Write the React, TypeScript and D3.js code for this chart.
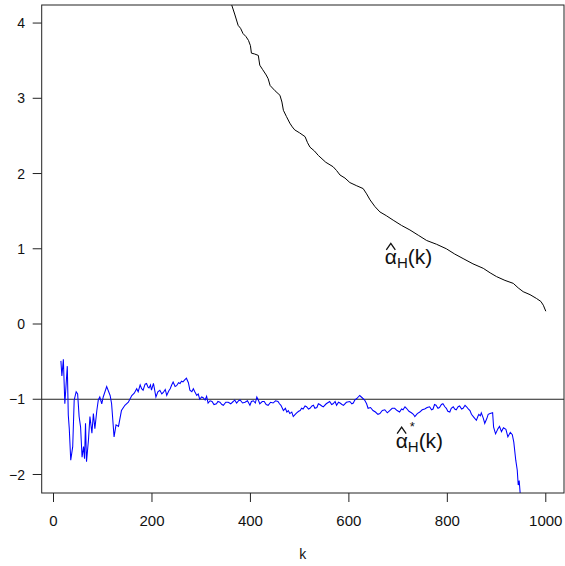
import React from "react";
import * as d3 from "d3";

const xTicks = [0, 200, 400, 600, 800, 1000];
const yTicks = [-2, -1, 0, 1, 2, 3, 4];

const hillK = [355, 362, 368, 375, 380, 385, 391, 396, 400, 402, 408, 416, 419, 425, 432, 436, 440, 450, 460, 464, 467, 473, 480, 485, 490, 500, 511, 516, 521, 530, 538, 553, 568, 575, 582, 592, 602, 615, 629, 636, 643, 653, 663, 676, 690, 707, 724, 741, 758, 778, 798, 815, 832, 852, 873, 887, 900, 917, 934, 944, 954, 968, 981, 990, 995, 1000];
const hillY = [4.32, 4.24, 4.12, 3.97, 3.93, 3.86, 3.82, 3.77, 3.7, 3.6, 3.59, 3.57, 3.44, 3.38, 3.31, 3.26, 3.17, 3.1, 3.04, 2.95, 2.84, 2.76, 2.67, 2.62, 2.58, 2.54, 2.49, 2.41, 2.35, 2.3, 2.24, 2.15, 2.09, 2.04, 1.98, 1.94, 1.88, 1.84, 1.8, 1.73, 1.65, 1.56, 1.49, 1.44, 1.38, 1.31, 1.25, 1.18, 1.11, 1.06, 1.0, 0.93, 0.87, 0.8, 0.74, 0.68, 0.63, 0.58, 0.54, 0.48, 0.43, 0.39, 0.34, 0.3, 0.25, 0.17];

const starK = [15, 17, 20, 23, 28, 30, 32, 35, 39, 42, 46, 49, 52, 55, 58, 61, 63, 65, 67, 71, 74, 78, 81, 84, 88, 91, 94, 98, 101, 108, 115, 118, 123, 127, 132, 138, 145, 152, 159, 164, 169, 172, 176, 179, 182, 186, 189, 192, 194, 197, 199, 203, 205, 208, 212, 216, 220, 223, 227, 230, 234, 237, 240, 243, 247, 250, 254, 257, 260, 263, 267, 270, 274, 277, 281, 284, 287, 291, 294, 297, 301, 304, 308, 311, 314, 318, 322, 326, 331, 334, 338, 342, 345, 350, 355, 360, 365, 368, 372, 376, 379, 384, 389, 394, 399, 402, 406, 410, 413, 416, 419, 424, 428, 432, 436, 441, 446, 451, 456, 459, 462, 467, 471, 474, 477, 480, 484, 487, 491, 494, 498, 501, 504, 507, 511, 514, 518, 521, 525, 528, 531, 535, 538, 541, 545, 548, 554, 561, 565, 568, 572, 575, 579, 582, 586, 589, 595, 602, 606, 609, 612, 616, 619, 622, 627, 632, 636, 639, 644, 649, 654, 659, 663, 668, 673, 678, 683, 688, 693, 698, 703, 707, 710, 714, 717, 722, 727, 731, 734, 739, 744, 749, 754, 759, 764, 768, 771, 774, 777, 781, 784, 788, 791, 795, 798, 801, 805, 808, 812, 815, 818, 822, 825, 829, 832, 836, 839, 843, 846, 849, 854, 859, 862, 864, 867, 869, 873, 876, 880, 883, 887, 892, 894, 898, 903, 906, 910, 914, 919, 923, 928, 932, 935, 939, 942, 944, 946, 949, 953];
const starY = [-0.49, -0.69, -0.47, -1.06, -0.56, -1.21, -1.39, -1.81, -1.63, -1.01, -0.9, -0.93, -1.23, -1.37, -1.77, -1.63, -1.79, -1.32, -1.83, -1.54, -1.23, -1.45, -1.19, -1.39, -1.15, -1.01, -0.97, -1.06, -0.97, -0.83, -0.95, -1.06, -1.5, -1.34, -1.36, -1.15, -1.08, -1.04, -0.95, -0.92, -0.86, -0.9, -0.81, -0.86, -0.88, -0.8, -0.79, -0.84, -0.85, -0.81, -0.88, -0.79, -0.86, -0.97, -0.9, -0.88, -0.93, -0.91, -0.87, -0.95, -0.89, -0.86, -0.81, -0.77, -0.83, -0.82, -0.78, -0.79, -0.76, -0.77, -0.74, -0.72, -0.78, -0.88, -0.9, -0.86, -0.9, -0.95, -0.93, -1.0, -0.97, -0.98, -1.01, -0.96, -1.05, -1.02, -1.03, -1.07, -1.06, -1.03, -1.04, -1.07, -1.08, -1.04, -1.04, -1.06, -1.03, -1.01, -1.05, -1.02, -1.01, -1.05, -1.04, -1.02, -1.08, -1.03, -1.02, -1.05, -0.97, -1.01, -1.06, -1.03, -1.03, -1.07, -1.08, -1.04, -1.05, -1.02, -1.03, -1.06, -1.08, -1.15, -1.12, -1.17, -1.15, -1.19, -1.17, -1.23, -1.2, -1.18, -1.16, -1.15, -1.12, -1.13, -1.09, -1.1, -1.13, -1.12, -1.09, -1.08, -1.12, -1.11, -1.06, -1.07, -1.09, -1.1, -1.06, -1.03, -1.07, -1.06, -1.03, -1.08, -1.04, -1.05, -1.07, -1.08, -1.04, -1.03, -1.06, -1.05, -1.01, -0.99, -0.97, -0.95, -0.98, -1.01, -1.06, -1.12, -1.11, -1.15, -1.17, -1.2, -1.19, -1.15, -1.14, -1.18, -1.15, -1.12, -1.12, -1.15, -1.17, -1.13, -1.14, -1.1, -1.12, -1.16, -1.18, -1.2, -1.23, -1.19, -1.17, -1.14, -1.13, -1.11, -1.1, -1.14, -1.13, -1.07, -1.08, -1.12, -1.11, -1.07, -1.06, -1.1, -1.12, -1.16, -1.17, -1.12, -1.1, -1.13, -1.14, -1.1, -1.09, -1.13, -1.12, -1.08, -1.1, -1.13, -1.15, -1.2, -1.24, -1.28, -1.23, -1.2, -1.22, -1.18, -1.25, -1.32, -1.26, -1.2, -1.19, -1.18, -1.37, -1.46, -1.39, -1.36, -1.43, -1.38, -1.4, -1.5, -1.44, -1.47, -1.57, -1.81, -1.94, -2.14, -2.08, -2.34, -2.7];

const refLineY = -1;
const labelHill = { k: 673, y: 0.8 };
const labelStar = { k: 695, y: -1.65 };
const xLabel = "k";

const W = 565;
const H = 566;
const left = 41.7;
const right = 564;
const top = 5;
const bottom = 493;

export default function App() {
  const x = d3.scaleLinear().domain([-24, 1037]).range([left, right]);
  const y = d3.scaleLinear().domain([-2.246, 4.24]).range([bottom, top]);
  const line = d3
    .line<[number, number]>()
    .x((d) => x(d[0]))
    .y((d) => y(d[1]));
  const hill = hillK.map((k, i) => [k, hillY[i]] as [number, number]);
  const star = starK.map((k, i) => [k, starY[i]] as [number, number]);
  const font = "Liberation Sans, Arial, Helvetica, sans-serif";

  const lx1 = x(labelHill.k);
  const ly1 = y(labelHill.y);
  const lx2 = x(labelStar.k);
  const ly2 = y(labelStar.y);

  return (
    <svg
      width={W}
      height={H}
      style={{ position: "absolute", left: 0, top: 0, background: "#fff" }}
      fontFamily={font}
    >
      <defs>
        <clipPath id="plotclip">
          <rect x={left} y={top} width={right - left} height={bottom - top} />
        </clipPath>
      </defs>
      <rect x={0} y={0} width={W} height={H} fill="#fff" />
      <g clipPath="url(#plotclip)">
        <line
          x1={left}
          x2={right}
          y1={y(refLineY)}
          y2={y(refLineY)}
          stroke="#222"
          strokeWidth={1}
        />
        <path d={line(hill) || ""} fill="none" stroke="#000" strokeWidth={1} />
        <path d={line(star) || ""} fill="none" stroke="#0000ff" strokeWidth={1.05} />
      </g>
      <rect
        x={left}
        y={top}
        width={right - left}
        height={bottom - top}
        fill="none"
        stroke="#222"
        strokeWidth={1}
      />
      {yTicks.map((t) => (
        <g key={"y" + t}>
          <line x1={left - 9} x2={left} y1={y(t)} y2={y(t)} stroke="#222" />
          <text
            x={25}
            y={y(t)}
            dy="0.36em"
            textAnchor="end"
            fontSize={14}
            fill="#111"
          >
            {t < 0 ? "\u2212" + Math.abs(t) : String(t)}
          </text>
        </g>
      ))}
      {xTicks.map((t) => (
        <g key={"x" + t}>
          <line x1={x(t)} x2={x(t)} y1={bottom} y2={bottom + 9} stroke="#222" />
          <text x={x(t)} y={526} textAnchor="middle" fontSize={15} fill="#111">
            {t}
          </text>
        </g>
      ))}
      <text x={(left + right) / 2} y={559} textAnchor="middle" fontSize={14} fill="#111">
        {xLabel}
      </text>

      <text x={lx1} y={ly1} fontSize={21} fill="#111">
        α
        <tspan fontSize={15} dy={4}>H</tspan>
        <tspan fontSize={21} dy={-4}>(k)</tspan>
      </text>
      <path
        d={`M${lx1 + 1.5},${ly1 - 14} L${lx1 + 6},${ly1 - 20.5} L${lx1 + 10.5},${ly1 - 14}`}
        fill="none"
        stroke="#111"
        strokeWidth={1.3}
      />

      <text x={lx2} y={ly2} fontSize={21} fill="#111">
        α
        <tspan fontSize={15} dy={4}>H</tspan>
        <tspan fontSize={21} dy={-4}>(k)</tspan>
      </text>
      <text x={lx2 + 14} y={ly2 - 17} fontSize={13} fill="#111">
        *
      </text>
      <path
        d={`M${lx2 + 1.5},${ly2 - 14.5} L${lx2 + 6},${ly2 - 21} L${lx2 + 10.5},${ly2 - 14.5}`}
        fill="none"
        stroke="#111"
        strokeWidth={1.3}
      />
    </svg>
  );
}
